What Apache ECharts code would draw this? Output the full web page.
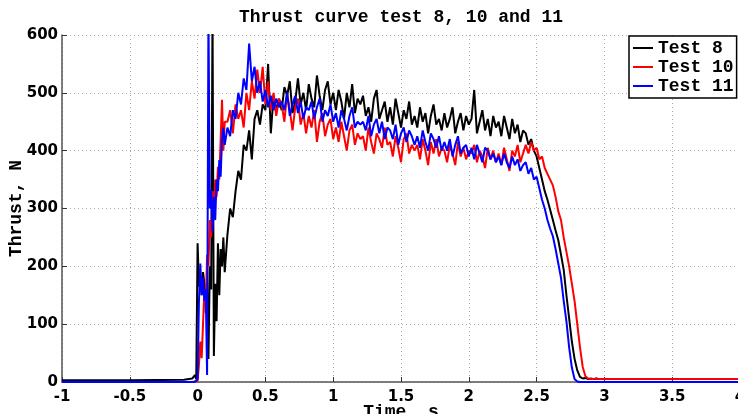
<!DOCTYPE html>
<html>
<head>
<meta charset="utf-8">
<script src="https://cdn.jsdelivr.net/npm/echarts@6/dist/echarts.min.js"></script>
<style>html,body{margin:0;padding:0;background:#fff;}#chart{width:738px;height:414px;}</style>
</head>
<body>
<div id="chart"></div>
<script>
var titleText = 'Thrust curve test 8, 10 and 11';
var xName = 'Time, s';
var yName = 'Thrust, N';
var seriesNames = ['Test 8', 'Test 10', 'Test 11'];

var time = [
  -1, -0.5, -0.1, -0.04, -0.02, -0.01,
  0, 0.01, 0.02, 0.03, 0.04, 0.05, 0.06, 0.07, 0.08, 0.09, 0.1,
  0.11, 0.12, 0.13, 0.14, 0.15, 0.16, 0.17, 0.18, 0.19, 0.2,
  0.22, 0.24, 0.26, 0.28, 0.3, 0.32, 0.34, 0.36, 0.38, 0.4,
  0.42, 0.44, 0.46, 0.48, 0.5, 0.52, 0.54, 0.56, 0.58, 0.6,
  0.62, 0.64, 0.66, 0.68, 0.7, 0.72, 0.74, 0.76, 0.78, 0.8,
  0.82, 0.84, 0.86, 0.88, 0.9, 0.92, 0.94, 0.96, 0.98, 1.0,
  1.02, 1.04, 1.06, 1.08, 1.1, 1.12, 1.14, 1.16, 1.18, 1.2,
  1.22, 1.24, 1.26, 1.28, 1.3, 1.32, 1.34, 1.36, 1.38, 1.4,
  1.42, 1.44, 1.46, 1.48, 1.5, 1.52, 1.54, 1.56, 1.58, 1.6,
  1.62, 1.64, 1.66, 1.68, 1.7, 1.72, 1.74, 1.76, 1.78, 1.8,
  1.82, 1.84, 1.86, 1.88, 1.9, 1.92, 1.94, 1.96, 1.98, 2.0,
  2.02, 2.04, 2.06, 2.08, 2.1, 2.12, 2.14, 2.16, 2.18, 2.2,
  2.22, 2.24, 2.26, 2.28, 2.3, 2.32, 2.34, 2.36, 2.38, 2.4,
  2.42, 2.44, 2.46, 2.48, 2.5, 2.52, 2.54, 2.56, 2.58, 2.6,
  2.62, 2.64, 2.66, 2.68, 2.7, 2.72, 2.74, 2.76, 2.78, 2.8,
  2.82, 2.84, 2.86, 2.88, 2.9, 2.92, 2.94, 2.96,
  3.0, 3.5, 4.0
];

var test8 = [
  3, 3, 4, 6, 12, 5,
  240, 165, 185, 150, 190, 170, 120, 175, 40, 200, 160,
  640, 45, 170, 105, 240, 150, 230, 200, 250, 190,
  255, 300, 285, 330, 365, 350, 410, 400, 435, 385,
  455, 470, 445, 480, 470, 550, 430, 495, 470, 490,
  470, 510, 495, 520, 465, 485, 525, 480, 500, 470,
  515, 490, 475, 530, 495, 470, 505, 520, 480, 500,
  470, 505, 485, 455, 500, 475, 515, 465, 490, 480,
  495, 460, 475, 450, 490, 505, 455, 470, 485, 450,
  475, 445, 490, 465, 440, 470, 455, 485, 445, 460,
  440, 475, 450, 465, 430, 460, 480, 445, 455, 435,
  465, 440, 455, 475, 430, 450, 465, 435, 460, 445,
  455, 505, 430, 450, 470, 435, 455, 425, 460, 440,
  450, 425, 460, 440, 420, 455, 430, 445, 415, 435,
  430, 410, 420, 400, 390, 370, 350, 330, 315, 298,
  280, 262, 245, 220, 194, 150, 110, 70, 40, 20,
  9, 6, 7, 5, 6, 5, 6, 5,
  5, 5, 5
];

var test10 = [
  0, 0, 0, 0, 1, 1,
  2, 30, 70, 41, 100, 160, 130, 220, 200, 280, 250,
  330, 290, 350, 320, 372, 350, 420, 488, 400, 450,
  450, 470, 430, 480, 455, 470, 440, 500, 470, 520,
  490, 540, 500, 545, 480, 520, 470, 500, 460, 490,
  480, 450, 500, 470, 435, 475, 490, 445, 465, 430,
  460, 440, 470, 415, 450, 465, 425, 445, 455, 420,
  440, 415, 450, 425, 400, 435, 445, 410, 430, 420,
  425, 400, 440, 415, 395, 430, 420, 405, 440, 410,
  415, 390, 425, 405, 380, 420, 430, 395, 410, 400,
  410, 385, 420, 400, 375, 415, 395, 420, 390, 405,
  400, 380, 410, 395, 375, 415, 390, 405, 385, 400,
  395, 410, 380, 400, 390, 370, 405, 385, 400, 380,
  395, 375, 405, 385, 365, 400, 390, 410, 380, 395,
  410, 395, 415, 400, 405, 385, 390, 370, 360, 350,
  340, 320, 295, 280, 250, 225, 200, 170, 140, 100,
  60, 26, 10, 6, 5, 5, 6, 5,
  5, 5, 5
];

var test11 = [
  0, 0, 0, 0, 0, 0,
  5, 140, 205, 150, 180, 140, 160, 12, 640, 300, 332,
  260, 320, 280, 350, 330, 384, 355, 420, 440, 410,
  440, 425, 470, 455, 500, 480, 525, 505, 585, 520,
  545, 500, 520, 485, 505, 475, 495, 470, 490, 475,
  485, 470, 500, 460, 480, 495, 465, 485, 455, 475,
  470, 485, 455, 475, 490, 450, 470, 460, 480, 450,
  465, 440, 470, 455, 435, 460, 475, 440, 450, 445,
  450, 435, 460, 425, 445, 455, 430, 450, 420, 440,
  435, 420, 445, 410, 430, 440, 415, 435, 425, 410,
  425, 405, 435, 415, 400, 430, 420, 405, 425, 400,
  415, 400, 420, 390, 410, 425, 395, 405, 410, 390,
  405, 385, 410, 395, 380, 405, 400, 385, 395, 380,
  390, 375, 395, 380, 370, 390, 375, 385, 365, 375,
  380, 360, 370, 350, 355, 335, 315, 300, 280, 265,
  252, 230, 205, 180, 140, 105, 60, 25, 5, 1,
  0, 0, 0, 0, 0, 0, 0, 0,
  0, 0, 0
];

var colors = ['#000000', '#ff0000', '#0000ff'];
var values = [test8, test10, test11];

function pairs(arr) {
  return time.map(function (t, i) { return [t, arr[i]]; });
}

var tickFont = { fontFamily: 'DejaVu Sans', fontWeight: 'bold', fontSize: 15, color: '#000' };
var monoFont = 'Liberation Mono';

var chart = echarts.init(document.getElementById('chart'), null, { renderer: 'canvas' });
chart.setOption({
  animation: false,
  backgroundColor: '#fff',
  title: {
    text: titleText,
    left: 234,
    top: 3,
    textStyle: { fontFamily: monoFont, fontWeight: 'bold', fontSize: 18, color: '#000' }
  },
  legend: {
    orient: 'vertical',
    left: 629,
    top: 36,
    data: seriesNames,
    icon: 'rect',
    itemWidth: 20,
    itemHeight: 2,
    itemGap: 1,
    padding: [3, 3, 3, 4],
    borderColor: '#000',
    borderWidth: 1.5,
    borderRadius: 0,
    backgroundColor: '#fff',
    textStyle: { fontFamily: monoFont, fontWeight: 'bold', fontSize: 18, color: '#000', lineHeight: 18 }
  },
  grid: { left: 62, right: -2, top: 35, bottom: 32, containLabel: false, outerBoundsMode: 'none' },
  xAxis: {
    type: 'value', min: -1, max: 4, interval: 0.5,
    name: xName, nameLocation: 'middle', nameGap: 21, nameMoveOverlap: false,
    nameTextStyle: { fontFamily: monoFont, fontWeight: 'bold', fontSize: 18, color: '#000' },
    axisLine: { show: true, onZero: false, lineStyle: { color: '#555', width: 1.5 } },
    axisTick: { show: true, inside: true, length: 5, lineStyle: { color: '#333' } },
    axisLabel: Object.assign({ margin: 8 }, tickFont),
    splitLine: { show: true, lineStyle: { color: '#aaa', width: 1, type: [1, 3] } }
  },
  yAxis: {
    type: 'value', min: 0, max: 600, interval: 100,
    name: yName, nameLocation: 'middle', nameGap: 37, nameRotate: 90, nameMoveOverlap: false,
    nameTextStyle: { fontFamily: monoFont, fontWeight: 'bold', fontSize: 18, color: '#000' },
    axisLine: { show: true, onZero: false, lineStyle: { color: '#555', width: 1.5 } },
    axisTick: { show: true, inside: true, length: 5, lineStyle: { color: '#333' } },
    axisLabel: Object.assign({ margin: 4 }, tickFont),
    splitLine: { show: true, lineStyle: { color: '#aaa', width: 1, type: [1, 3] } }
  },
  series: seriesNames.map(function (n, k) {
    return {
      name: n,
      type: 'line',
      data: pairs(values[k]),
      showSymbol: false,
      symbol: 'none',
      clip: true,
      color: colors[k],
      lineStyle: { color: colors[k], width: 2 }
    };
  })
});
</script>
</body>
</html>
